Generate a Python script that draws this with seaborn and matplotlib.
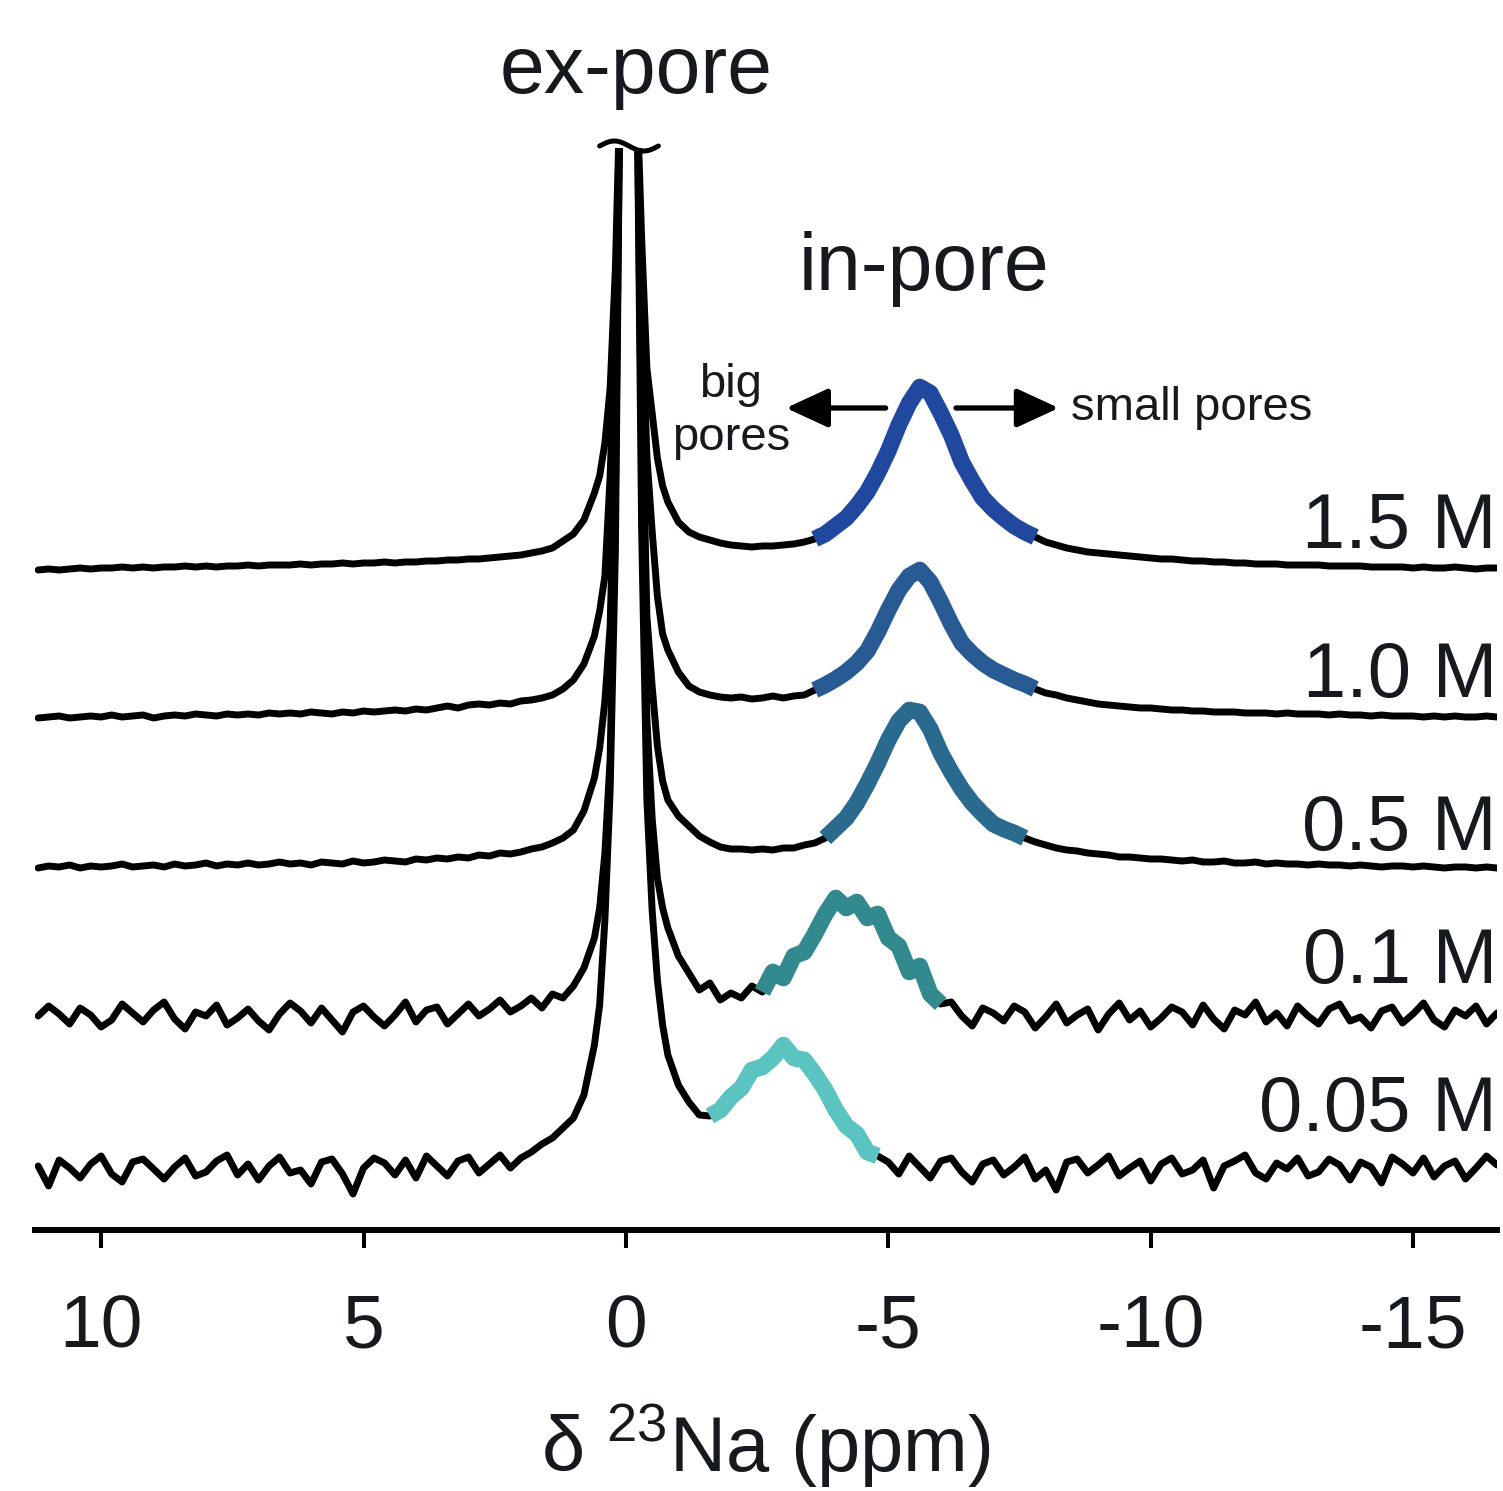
import numpy as np
import pandas as pd
import matplotlib
matplotlib.use("Agg")
import matplotlib.pyplot as plt
import seaborn as sns

# chemical shift grid (ppm), shared by every spectrum
PPM = [11.2, 11.0, 10.8, 10.6, 10.4, 10.2, 10.0, 9.8, 9.6, 9.4,
       9.2, 9.0, 8.8, 8.6, 8.4, 8.2, 8.0, 7.8, 7.6, 7.4,
       7.2, 7.0, 6.8, 6.6, 6.4, 6.2, 6.0, 5.8, 5.6, 5.4,
       5.2, 5.0, 4.8, 4.6, 4.4, 4.2, 4.0, 3.8, 3.6, 3.4,
       3.2, 3.0, 2.8, 2.6, 2.4, 2.2, 2.0, 1.8, 1.6, 1.4,
       1.2,
       1.0, 0.8, 0.6, 0.5, 0.4, 0.3, 0.2, 0.12,
       -0.05,
       -0.22, -0.3, -0.4, -0.5, -0.6, -0.7, -0.8, -1.0,
       -1.2, -1.4, -1.6, -1.8, -2.0, -2.2, -2.4, -2.6, -2.8, -3.0,
       -3.2, -3.4, -3.6, -3.8, -4.0, -4.2, -4.4, -4.6, -4.8, -5.0,
       -5.2, -5.4, -5.6, -5.8, -6.0, -6.2, -6.4, -6.6, -6.8, -7.0,
       -7.2, -7.4, -7.6, -7.8, -8.0, -8.2, -8.4, -8.6, -8.8, -9.0,
       -9.2, -9.4, -9.6, -9.8, -10.0, -10.2, -10.4, -10.6, -10.8, -11.0,
       -11.2, -11.4, -11.6, -11.8, -12.0, -12.2, -12.4, -12.6, -12.8, -13.0,
       -13.2, -13.4, -13.6, -13.8, -14.0, -14.2, -14.4, -14.6, -14.8, -15.0,
       -15.2, -15.4, -15.6, -15.8, -16.0, -16.2, -16.4, -16.6]

# intensities (arb. units, baseline-relative); the ex-pore peak is off scale
NA_1_5M = [-2, -1, -2, -1, 0, -1, 0, 0, 1, 0,
           1, 0, 1, 1, 2, 1, 2, 1, 2, 2,
           3, 2, 3, 3, 3, 4, 3, 4, 4, 5,
           4, 5, 5, 6, 5, 6, 6, 7, 7, 8,
           8, 9, 9, 10, 11, 12, 13, 15, 17, 20,
           27,
           34, 48, 75, 92, 125, 180, 300, 460,
           2500,
           460, 330, 200, 155, 110, 82, 66, 46,
           36, 31, 28, 25, 23, 22, 21, 22, 22, 23,
           24, 26, 29, 34, 42, 50, 62, 76, 95, 117,
           143, 165, 181, 175, 155, 133, 106, 87, 70, 59,
           50, 42, 36, 31, 26, 23, 20, 18, 16, 15,
           14, 13, 12, 11, 10, 9, 9, 8, 7, 7,
           6, 6, 5, 5, 4, 4, 4, 3, 3, 3,
           3, 2, 2, 2, 2, 1, 1, 1, 1, 0,
           1, 0, 0, 1, 0, -1, 0, 0]

NA_1_0M = [-2, -1, 0, -2, -1, 0, -1, 1, -1, 0,
           1, -2, 0, 1, 0, 2, 1, 0, 2, 1,
           2, 1, 3, 2, 3, 2, 4, 3, 2, 4,
           3, 5, 4, 5, 6, 5, 7, 6, 8, 10,
           8, 11, 12, 11, 13, 12, 15, 16, 18, 21,
           27,
           36, 52, 80, 105, 140, 240, 400, 600,
           2500,
           600, 420, 260, 185, 120, 82, 66, 44,
           30, 24, 21, 19, 18, 19, 17, 18, 20, 18,
           20, 21, 26, 31, 37, 44, 53, 65, 84, 106,
           126, 140, 146, 134, 114, 92, 73, 62, 53, 46,
           41, 36, 32, 27, 23, 21, 18, 16, 14, 12,
           11, 10, 9, 8, 8, 7, 6, 6, 5, 5,
           4, 4, 4, 3, 3, 3, 2, 3, 2, 2,
           2, 1, 2, 1, 1, 0, 1, 0, 0, 0,
           -1, 0, -1, 0, -1, -1, 0, -1]

NA_0_5M = [-2, 0, -1, 1, -2, 0, -1, 0, 2, -1,
           0, 1, -1, 2, 0, 1, 3, 0, 2, 1,
           3, 1, 2, 4, 2, 3, 1, 4, 3, 2,
           5, 3, 4, 6, 5, 4, 7, 6, 8, 7,
           9, 8, 11, 10, 13, 12, 14, 17, 19, 23,
           28,
           36, 55, 88, 118, 165, 240, 450, 760,
           2500,
           760, 500, 250, 180, 120, 85, 66, 50,
           40, 30, 24, 19, 17, 17, 16, 17, 16, 18,
           18, 21, 23, 28, 38, 48, 63, 82, 103, 126,
           145, 156, 154, 137, 113, 94, 77, 63, 52, 42,
           37, 33, 28, 24, 21, 18, 16, 15, 13, 12,
           11, 9, 9, 8, 7, 7, 6, 5, 6, 4,
           4, 5, 3, 3, 4, 2, 3, 2, 2, 1,
           2, 1, 1, 0, 1, 0, -1, 0, 0, -1,
           0, -1, -2, -1, -1, -2, -1, -2]

NA_0_1M = [2, 12, 4, -6, 10, 3, -9, -2, 14, 5,
           -4, 8, 16, -1, -11, 6, 2, 13, -7, 0,
           9, -3, -12, 4, 15, 7, -5, 10, -2, -14,
           6, 12, 1, -8, 3, 16, -4, 8, 11, -6,
           4, 14, 2, 9, 18, 6, 12, 20, 10, 24,
           20,
           32, 50, 80, 110, 165, 260, 520, 900,
           2500,
           900, 560, 300, 200, 140, 110, 90, 62,
           45, 28, 35, 18, 25, 20, 32, 26, 46, 40,
           62, 66, 84, 104, 120, 110, 116, 100, 104, 80,
           72, 46, 52, 24, 14, 16, 2, -8, 10, 5,
           -3, 12, 6, -10, 1, 14, -5, 3, 9, -12,
           4, 15, -2, 7, -9, 0, 11, 6, -7, 13,
           -1, -11, 8, 3, 16, -4, 5, -8, 12, 2,
           -6, 9, 14, -3, 1, -10, 7, 11, -5, 4,
           15, -2, -9, 8, 2, 12, -6, 5]

NA_0_05M = [4, -16, 10, 2, -8, 6, 14, -4, -12, 8,
            11, 1, -9, 3, 12, -6, -2, 9, 15, -5,
            6, -10, 4, 13, -3, 0, -14, 8, 11, -4,
            -24, 2, 12, 7, -5, 10, -8, 14, 4, -6,
            9, 13, -3, 6, 15, 2, 12, 18, 26, 32,
            42,
            52, 75, 125, 165, 250, 380, 620, 1050,
            2500,
            1050, 640, 370, 260, 190, 145, 115, 85,
            68, 55, 54, 60, 73, 82, 100, 103, 112, 125,
            112, 110, 96, 80, 60, 44, 36, 18, 14, 8,
            -4, 14, 3, -8, 9, 12, -2, -12, 6, 10,
            -5, 3, 13, -9, 0, -20, 8, 11, -3, 5,
            14, -6, 2, 9, -11, 6, 12, -4, 0, 10,
            -18, 4, 9, 15, -3, -9, 7, 1, 12, -6,
            -2, 11, 5, -10, 8, 3, -13, 13, 6, -3,
            12, -7, 4, 9, -9, 2, 14, 5]

LABELS = ["1.5 M", "1.0 M", "0.5 M", "0.1 M", "0.05 M"]
SPECTRA = [NA_1_5M, NA_1_0M, NA_0_5M, NA_0_1M, NA_0_05M]
# in-pore region (ppm, low / high) highlighted for each sample
INPORE = [(-7.8, -3.6), (-7.8, -3.6), (-7.6, -3.8), (-6.0, -2.6), (-4.8, -1.6)]

BAND_COLORS = ["#1F489E", "#285B94", "#2A6A8E", "#328A8E", "#5BC4C0"]
OFFSETS = [662, 514, 364, 212, 60]
TXT = "#16191d"

for s in SPECTRA:
    assert len(s) == len(PPM)

sns.set_style("white")
plt.rcParams["font.family"] = ["Liberation Sans", "DejaVu Sans"]
plt.rcParams["axes.unicode_minus"] = False
plt.rcParams["mathtext.fontset"] = "custom"
plt.rcParams["mathtext.rm"] = "Liberation Sans"

fig = plt.figure(figsize=(15.03, 14.91), dpi=100)
ax = fig.add_axes([35 / 1503, 261 / 1491, 1462 / 1503, 1082 / 1491])

rows = []
for name, vals, off in zip(LABELS, SPECTRA, OFFSETS):
    for p, v in zip(PPM, vals):
        rows.append((name, p, v + off))
df = pd.DataFrame(rows, columns=["sample", "ppm", "y"])

sns.lineplot(data=df, x="ppm", y="y", units="sample", estimator=None, sort=False,
             color="black", lw=5, legend=False, ax=ax)

for name, (lo, hi), col in zip(LABELS, INPORE, BAND_COLORS):
    sub = df[(df["sample"] == name) & (df["ppm"] >= lo - 1e-6) & (df["ppm"] <= hi + 1e-6)]
    sns.lineplot(data=sub, x="ppm", y="y", sort=False, color=col, lw=12,
                 legend=False, ax=ax, zorder=3, solid_capstyle="butt")

ax.set_xlim(11.26, -16.6)
ax.set_ylim(0, 1082)
for side in ["left", "top", "right"]:
    ax.spines[side].set_visible(False)
ax.spines["bottom"].set_linewidth(4.3)
ax.spines["bottom"].set_color("black")
ax.set_yticks([])
ax.set_xticks([10, 5, 0, -5, -10, -15])
ax.tick_params(axis="x", bottom=True, direction="out", length=13, width=2.9,
               color="black", labelsize=54, labelcolor=TXT, pad=33)
ax.set_xlabel(r"δ $^{\mathregular{23}}$Na (ppm)", fontsize=56, color=TXT, labelpad=28)
ax.set_ylabel("")

# axis-break mark on top of the truncated ex-pore peak
t = np.linspace(0, 1, 60)
ax.plot(0.5 - 1.12 * t, 1084 + 5 * np.sin(2 * np.pi * t), color="black",
        lw=3.6, clip_on=False, solid_capstyle="round")

ax.text(-0.19, 1137, "ex-pore", ha="center", va="baseline", fontsize=58, color=TXT)
ax.text(-5.68, 940, "in-pore", ha="center", va="baseline", fontsize=58, color=TXT)
ax.text(-2.0, 833, "big", ha="center", va="baseline", fontsize=34, color=TXT)
ax.text(-2.0, 780, "pores", ha="center", va="baseline", fontsize=34, color=TXT)
ax.text(-8.48, 810, "small pores", ha="left", va="baseline", fontsize=34, color=TXT)

arrow = dict(arrowstyle="-|>,head_length=1.3,head_width=0.6", color="black",
             lw=3.8, mutation_scale=20, shrinkA=0, shrinkB=0)
ax.annotate("", xy=(-3.05, 822), xytext=(-4.95, 822), arrowprops=arrow)
ax.annotate("", xy=(-8.25, 822), xytext=(-6.29, 822), arrowprops=arrow)

for name, base in zip(LABELS, [682, 533, 380, 247, 99]):
    ax.text(-16.6, base, name, ha="right", va="baseline", fontsize=56, color=TXT)

fig.savefig("out.png", dpi=100)
